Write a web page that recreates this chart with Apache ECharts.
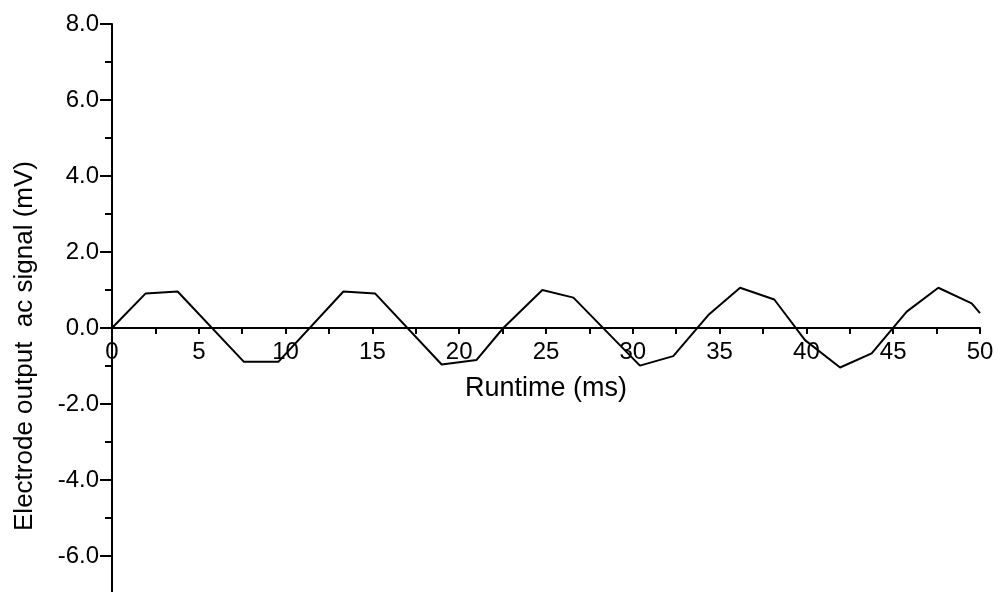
<!DOCTYPE html>
<html>
<head>
<meta charset="utf-8">
<script src="https://cdn.jsdelivr.net/npm/echarts@6/dist/echarts.min.js"></script>
<style>html,body{margin:0;padding:0;background:#fff}#c{width:1001px;height:592px}</style>
</head>
<body>
<div id="c"></div>
<script>
// Data
const timeMs   = [0, 1.94, 3.78, 7.6, 9.58, 13.33, 15.15, 18.99, 21.0, 22.54, 24.79, 26.58, 30.41, 32.33, 34.35, 36.18, 38.15, 39.92, 41.94, 43.76, 45.78, 47.6, 49.52, 50.0];
const signalMv = [0, 0.91, 0.96, -0.89, -0.89, 0.96, 0.91, -0.96, -0.84, 0.0, 1.0, 0.80, -0.99, -0.74, 0.34, 1.06, 0.75, -0.32, -1.04, -0.67, 0.43, 1.06, 0.65, 0.39];
const xTitle = 'Runtime (ms)';
const yTitle = 'Electrode output  ac signal (mV)';

const points = timeMs.map((t, i) => [t, signalMv[i]]);
const font = 'Liberation Sans, Arial, sans-serif';

const chart = echarts.init(document.getElementById('c'), null, {renderer: 'canvas'});
chart.setOption({
  animation: false,
  backgroundColor: '#ffffff',
  grid: {left: 112, right: 21, top: 24, bottom: -40, containLabel: false, outerBoundsMode: 'none'},
  xAxis: {
    type: 'value', min: 0, max: 50, interval: 5,
    position: 'bottom', offset: -304,
    axisLine: {onZero: false, lineStyle: {color: '#000', width: 2}},
    axisTick: {show: true, inside: false, length: 6, lineStyle: {color: '#000', width: 2}},
    minorTick: {show: true, splitNumber: 2, length: 6, lineStyle: {color: '#000', width: 2}},
    splitLine: {show: false},
    axisLabel: {color: '#000', fontSize: 24, fontFamily: font, margin: 12, showMinLabel: true, showMaxLabel: true, hideOverlap: false},
    name: xTitle, nameLocation: 'middle', nameGap: 47,
    nameTextStyle: {color: '#000', fontSize: 27, fontFamily: font}
  },
  yAxis: {
    type: 'value', min: -8, max: 8, interval: 2,
    axisLine: {show: true, onZero: false, lineStyle: {color: '#000', width: 2}},
    axisTick: {show: true, inside: false, length: 12, lineStyle: {color: '#000', width: 2}},
    minorTick: {show: true, splitNumber: 2, length: 7, lineStyle: {color: '#000', width: 2}},
    splitLine: {show: false},
    axisLabel: {color: '#000', fontSize: 24, fontFamily: font, margin: 13,
      formatter: v => v.toFixed(1)},
    name: yTitle, nameLocation: 'middle', nameGap: 74, nameRotate: 90,
    nameTextStyle: {color: '#000', fontSize: 26, fontFamily: font, padding: [0, 36, 0, 0]}
  },
  series: [{
    type: 'line', data: points, symbol: 'none', smooth: false,
    lineStyle: {color: '#000', width: 2}
  }]
});
</script>
</body>
</html>
